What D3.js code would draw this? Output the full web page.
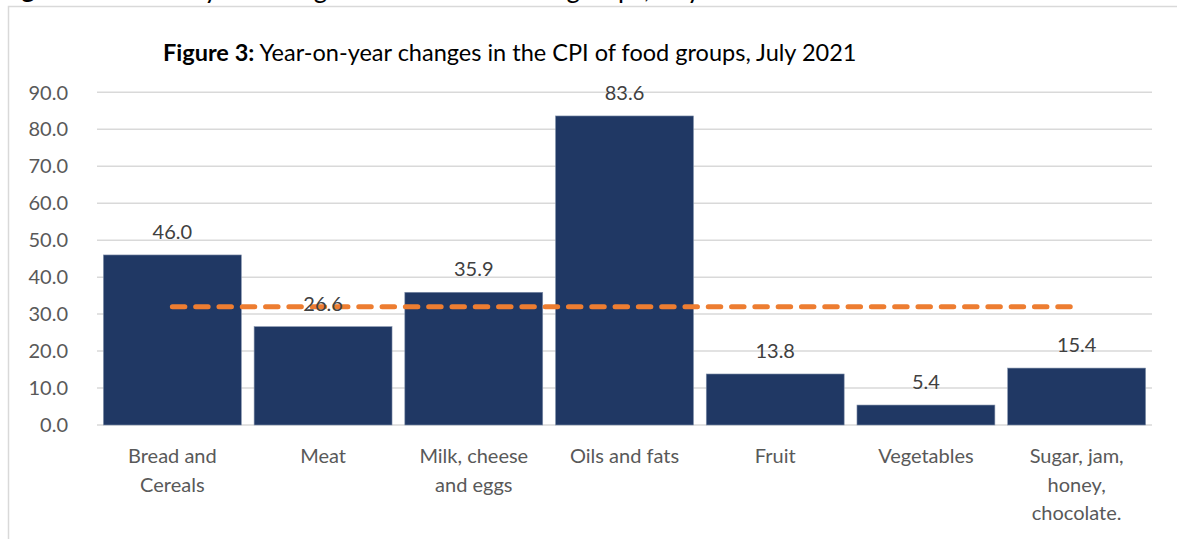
<!DOCTYPE html>
<html>
<head>
<meta charset="utf-8">
<script src="https://cdn.jsdelivr.net/npm/d3@7"></script>
<style>
  html, body { margin: 0; padding: 0; background: #fff; }
  svg { display: block; }
</style>
</head>
<body>
<svg id="chart" width="1177" height="539"></svg>
<script>
const categories = [
  ["Bread and", "Cereals"],
  ["Meat"],
  ["Milk, cheese", "and eggs"],
  ["Oils and fats"],
  ["Fruit"],
  ["Vegetables"],
  ["Sugar, jam,", "honey,", "chocolate."]
];
const values = [46.0, 26.6, 35.9, 83.6, 13.8, 5.4, 15.4];
const averageValue = 32.0;
const yTicks = [0, 10, 20, 30, 40, 50, 60, 70, 80, 90];
const titleBold = "Figure 3:";
const titleRest = " Year-on-year changes in the CPI of food groups, July 2021";

const svg = d3.select("#chart");
const font = "Lato, 'Open Sans', sans-serif";

// page heading above the chart frame (clipped by the top edge, as in the reference)
const head = svg.append("text").attr("x", 0).attr("y", -2)
  .attr("font-family", font).attr("font-size", 26).attr("fill", "#000");
head.append("tspan").attr("font-weight", "bold").text(titleBold);
head.append("tspan").text(titleRest);

// chart frame
svg.append("rect").attr("x", 8.5).attr("y", 6.5).attr("width", 1300).attr("height", 700)
  .attr("fill", "#fff").attr("stroke", "#d9d9d9").attr("stroke-width", 1.5);

const x = d3.scaleBand().domain(d3.range(categories.length)).range([97, 1152]).paddingInner(0.085).paddingOuter(0.0425);
const y = d3.scaleLinear().domain([0, 90]).range([425, 92.3]);

// gridlines
svg.append("g").selectAll("line").data(yTicks).join("line")
  .attr("x1", 97).attr("x2", 1152)
  .attr("y1", d => y(d)).attr("y2", d => y(d))
  .attr("stroke", "#d9d9d9").attr("stroke-width", 1.5);

// y tick labels
svg.append("g").selectAll("text").data(yTicks).join("text")
  .attr("x", 68).attr("y", d => y(d)).attr("dy", "0.36em")
  .attr("text-anchor", "end").attr("font-family", font).attr("font-size", 20)
  .attr("fill", "#595959").text(d => d.toFixed(1));

// bars
svg.append("g").selectAll("rect").data(values).join("rect")
  .attr("x", (d, i) => x(i)).attr("width", x.bandwidth())
  .attr("y", d => y(d)).attr("height", d => y(0) - y(d))
  .attr("fill", "#203864").attr("stroke", "#8090aa").attr("stroke-width", 0.6);

// average dashed line
const lineGen = d3.line().x(d => x(d) + x.bandwidth() / 2).y(() => y(averageValue));
svg.append("path").datum([0, categories.length - 1])
  .attr("d", lineGen).attr("fill", "none")
  .attr("stroke", "#ED7D31").attr("stroke-width", 5)
  .attr("stroke-linecap", "round").attr("stroke-dasharray", "12.5,10.8");

// value labels
svg.append("g").selectAll("text").data(values).join("text")
  .attr("x", (d, i) => x(i) + x.bandwidth() / 2).attr("y", d => y(d) - 16)
  .attr("text-anchor", "middle").attr("font-family", font).attr("font-size", 20)
  .attr("fill", "#404040").text(d => d.toFixed(1));

// category labels
const cat = svg.append("g").selectAll("text").data(categories).join("text")
  .attr("x", (d, i) => x(i) + x.bandwidth() / 2).attr("y", 463)
  .attr("text-anchor", "middle").attr("font-family", font).attr("font-size", 20)
  .attr("fill", "#595959");
cat.selectAll("tspan").data(d => d).join("tspan")
  .attr("x", function() { return this.parentNode.getAttribute("x"); })
  .attr("dy", (d, i) => i === 0 ? 0 : 28.5).text(d => d);

// chart title
const title = svg.append("text").attr("x", 163).attr("y", 61)
  .attr("font-family", font).attr("font-size", 20).attr("fill", "#000");
title.append("tspan").attr("font-weight", "bold").text(titleBold);
title.append("tspan").text(titleRest);
const tl = title.node().getComputedTextLength();
title.attr("font-size", 20 * 694 / tl);
</script>
</body>
</html>
